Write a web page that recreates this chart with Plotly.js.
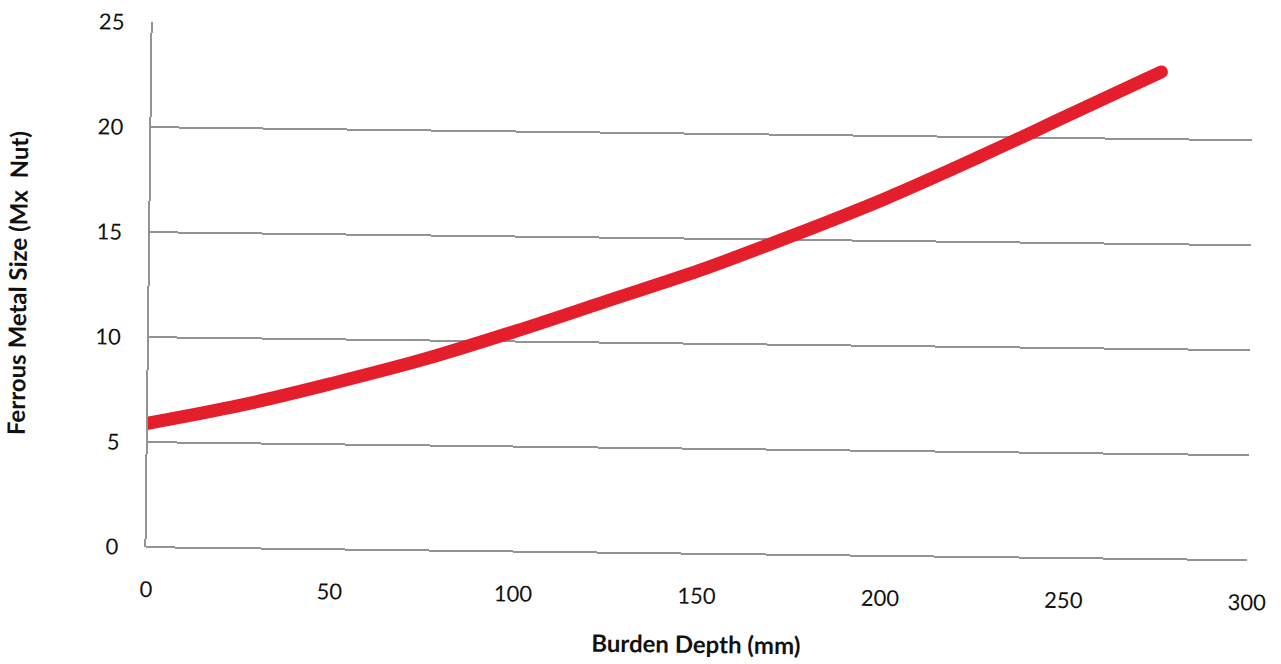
<!DOCTYPE html>
<html>
<head>
<meta charset="utf-8">
<script src="https://cdn.plot.ly/plotly-3.0.1.min.js"></script>
<style>
  html, body { margin: 0; padding: 0; background: #ffffff; overflow: hidden; }
  #chart { width: 1281px; height: 664px; transform: rotate(0.68deg); transform-origin: 640px 332px; }
  #chart .js-line { stroke-linecap: round; }
</style>
</head>
<body>
<div id="chart"></div>
<script>
// Data
const burdenDepth = [0, 25, 50, 75, 100, 125, 150, 175, 200, 225, 250, 275];
const metalSize   = [5.9, 6.8, 7.9, 9.1, 10.5, 12.0, 13.5, 15.2, 17.0, 19.0, 21.1, 23.2];

const xTickVals = [0, 50, 100, 150, 200, 250, 300];
const yTickVals = [0, 5, 10, 15, 20, 25];

const xTitle = 'Burden Depth (mm)';
const yTitle = 'Ferrous Metal Size (Mx  Nut)';

const trace = {
  x: burdenDepth,
  y: metalSize,
  type: 'scatter',
  mode: 'lines',
  line: { color: '#e41f2b', width: 13, shape: 'spline', smoothing: 1 },
  hoverinfo: 'x+y'
};

const layout = {
  width: 1281,
  height: 664,
  margin: { l: 149, r: 31, t: 28, b: 111 },
  paper_bgcolor: '#ffffff',
  plot_bgcolor: '#ffffff',
  showlegend: false,
  font: { family: 'Lato, "Open Sans", sans-serif', size: 22, color: '#111111' },
  xaxis: {
    range: [0, 300],
    tickvals: xTickVals,
    showgrid: false,
    zeroline: false,
    showline: false,
    ticks: '',
    ticklabelstandoff: 27,
    tickfont: { size: 22, color: '#111111' },
    title: { text: xTitle, standoff: 28, font: { size: 24, color: '#111111', weight: 'bold' } }
  },
  yaxis: {
    range: [0, 25],
    tickvals: yTickVals,
    showgrid: true,
    gridcolor: '#939393',
    gridwidth: 1.5,
    zeroline: true,
    zerolinecolor: '#939393',
    zerolinewidth: 1.5,
    showline: true,
    linecolor: '#939393',
    linewidth: 1.5,
    ticks: '',
    ticklabelstandoff: 22,
    tickfont: { size: 22, color: '#111111' },
    title: { text: yTitle, standoff: 62, font: { size: 24, color: '#111111', weight: 'bold' } }
  }
};

Plotly.newPlot('chart', [trace], layout, { displayModeBar: false, staticPlot: false });
</script>
</body>
</html>
